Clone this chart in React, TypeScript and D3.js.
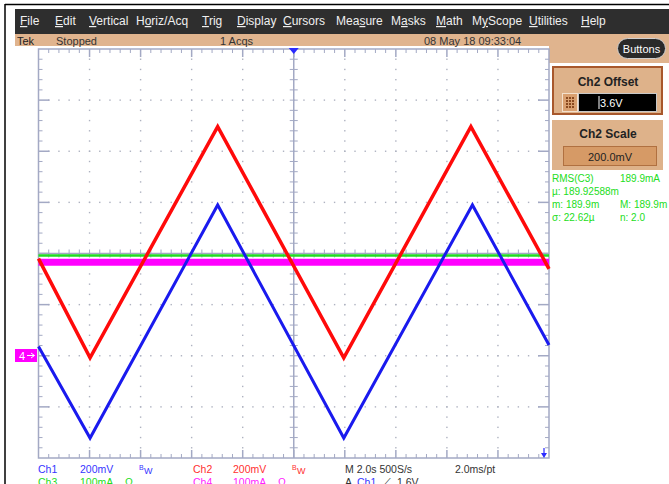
import React from "react";
import * as d3 from "d3";

// ---- data (time in divisions 0..10, amplitude in divisions -4..4) ----
const ch2Time = [0, 1.01, 3.51, 5.98, 8.47, 10];
const ch2Level = [-0.1, -2.04, 2.48, -2.04, 2.48, -0.3];
const ch1Time = [0, 1.01, 3.51, 5.98, 8.5, 10];
const ch1Level = [-1.82, -3.61, 0.95, -3.61, 0.95, -1.79];
const ch3Time = [0, 10];
const ch3Level = [-0.04, -0.04];
const ch4Time = [0, 10];
const ch4Level = [-0.17, -0.17];

const menuItems = ["File", "Edit", "Vertical", "Horiz/Acq", "Trig", "Display", "Cursors", "Measure", "Masks", "Math", "MyScope", "Utilities", "Help"];
const menuUnderline = [0, 0, 0, 1, 0, 0, 0, 3, 1, 0, 1, 0, 0];
const menuX = [20, 55, 89, 136, 202, 237, 283, 336, 391, 436, 472, 529, 581];

const measureRows = [
  ["RMS(C3)", "189.9mA"],
  ["µ:  189.92588m", ""],
  ["m:  189.9m", "M:  189.9m"],
  ["σ:  22.62µ", "n:  2.0"],
];

const X0 = 38.5, X1 = 549, Y0 = 49, Y1 = 458;
const GRID = "#a3a9c4";
const FONT = "'Liberation Sans', Arial, sans-serif";

export default function App() {
  const x = d3.scaleLinear().domain([0, 10]).range([X0, X1]);
  const y = d3.scaleLinear().domain([-4, 4]).range([Y1, Y0]);
  const line = (t: number[], v: number[]) =>
    d3.line<number>().x((_, i) => x(t[i])).y((d) => y(d))(v) || "";

  const dots: JSX.Element[] = [];
  for (let i = 1; i < 10; i++) {
    if (i === 5) continue;
    for (let k = 1; k < 40; k++) {
      dots.push(<rect key={`v${i}-${k}`} x={x(i) - 0.7} y={y(-4 + k * 0.2) - 0.7} width={1.4} height={1.4} fill="#aeb2c0" />);
    }
  }
  for (let j = 1; j < 8; j++) {
    if (j === 4) continue;
    for (let k = 1; k < 50; k++) {
      dots.push(<rect key={`h${j}-${k}`} x={x(k * 0.2) - 0.7} y={y(-4 + j) - 0.7} width={1.4} height={1.4} fill="#aeb2c0" />);
    }
  }
  const ticks: JSX.Element[] = [];
  for (let k = 1; k < 50; k++) {
    const major = k % 5 === 0;
    const L = major ? 8 : 4;
    const xx = x(k * 0.2);
    ticks.push(<line key={`tt${k}`} x1={xx} x2={xx} y1={Y0} y2={Y0 + L} stroke={GRID} strokeWidth={major ? 1.5 : 1} />);
    ticks.push(<line key={`tb${k}`} x1={xx} x2={xx} y1={Y1} y2={Y1 - L} stroke={GRID} strokeWidth={major ? 1.5 : 1} />);
    ticks.push(<line key={`tc${k}`} x1={xx} x2={xx} y1={y(0) - 4} y2={y(0) + 4} stroke={GRID} strokeWidth={1} />);
  }
  for (let k = 1; k < 40; k++) {
    const major = k % 5 === 0;
    const L = major ? 11 : 4;
    const yy = y(-4 + k * 0.2);
    ticks.push(<line key={`tl${k}`} x1={X0} x2={X0 + L} y1={yy} y2={yy} stroke={GRID} strokeWidth={major ? 1.5 : 1} />);
    ticks.push(<line key={`tr${k}`} x1={X1} x2={X1 - L} y1={yy} y2={yy} stroke={GRID} strokeWidth={major ? 1.5 : 1} />);
    ticks.push(<line key={`tm${k}`} x1={x(5) - 4} x2={x(5) + 4} y1={yy} y2={yy} stroke={GRID} strokeWidth={1} />);
  }

  return (
    <svg width={669} height={484} style={{ position: "absolute", left: 0, top: 0, background: "#fff" }} fontFamily={FONT}>
      {/* frame */}
      <line x1={5} x2={669} y1={4.5} y2={4.5} stroke="#000" strokeWidth={1.5} />
      <line x1={5} x2={5} y1={4} y2={484} stroke="#000" strokeWidth={1.5} />
      {/* menu bar */}
      <rect x={15} y={9} width={654} height={25} fill="#2e2e2e" />
      {menuItems.map((m, i) => (
        <text key={m} x={menuX[i]} y={25} fontSize={12} fill="#f0f0f0">
          {m.split("").map((c, j) => (
            <tspan key={j} textDecoration={j === menuUnderline[i] ? "underline" : undefined}>{c}</tspan>
          ))}
        </text>
      ))}
      {/* status bar */}
      <rect x={15} y={34} width={654} height={12} fill="#e0b48e" />
      <rect x={549} y={34} width={120} height={29} fill="#e0b48e" />
      <text x={17} y={44.5} fontSize={11} fill="#222">Tek</text>
      <text x={56} y={44.5} fontSize={11} fill="#333">Stopped</text>
      <text x={220} y={44.5} fontSize={11} fill="#333">1 Acqs</text>
      <text x={424} y={44.5} fontSize={11} fill="#333">08 May 18 09:33:04</text>
      <rect x={617.5} y={38.5} width={48} height={20} rx={10} fill="#2a2a2a" stroke="#cfcfcf" strokeWidth={1} />
      <text x={641.5} y={52.5} fontSize={11} fill="#fff" textAnchor="middle">Buttons</text>

      {/* graticule */}
      <rect x={X0} y={Y0} width={X1 - X0} height={Y1 - Y0} fill="#fff" />
      {dots}
      <line x1={x(5)} x2={x(5)} y1={Y0} y2={Y1} stroke={GRID} strokeWidth={1.5} />
      <line x1={X0} x2={X1} y1={y(0)} y2={y(0)} stroke={GRID} strokeWidth={1.5} />
      {ticks}
      <rect x={X0} y={Y0} width={X1 - X0} height={Y1 - Y0} fill="none" stroke={GRID} strokeWidth={1.5} />

      {/* traces */}
      <path d={line(ch3Time, ch3Level)} fill="none" stroke="#22dd22" strokeWidth={2.5} />
      <path d={line(ch4Time, ch4Level)} fill="none" stroke="#ff00ff" strokeWidth={7} />
      <path d={line(ch2Time, ch2Level)} fill="none" stroke="#ff0a0a" strokeWidth={3.5} strokeLinejoin="miter" />
      <path d={line(ch1Time, ch1Level)} fill="none" stroke="#1a1aee" strokeWidth={3} strokeLinejoin="miter" />

      {/* markers */}
      <path d={`M${x(5) - 5},${Y0 - 1} L${x(5) + 5},${Y0 - 1} L${x(5)},${Y0 + 5} Z`} fill="#2a2aff" />
      <path d={`M${X1 - 8},${Y1 - 5} L${X1 - 2},${Y1 - 5} L${X1 - 5},${Y1} Z M${X1 - 5.6},${Y1 - 10} h1.2 v6 h-1.2 Z`} fill="#2a2aff" />
      <rect x={15} y={349} width={22} height={13} fill="#ff00ff" />
      <text x={19} y={359.5} fontSize={11} fill="#fff">4</text>
      <path d="M27,355.5 L34,355.5 M31,353 L34.5,355.5 L31,358" stroke="#fff" strokeWidth={1} fill="none" />

      {/* right panel */}
      <rect x={553} y={67} width={109} height={47} fill="#deb28a" stroke="#a8582c" strokeWidth={2} />
      <text x={608} y={86} fontSize={12} fontWeight="bold" fill="#222" textAnchor="middle">Ch2 Offset</text>
      <rect x={562.5} y={93.5} width={15} height={18} fill="#d9a070" stroke="#f4e0cc" strokeWidth={1} />
      {[0, 1, 2, 3].map((r) => [0, 1, 2].map((c) => (
        <rect key={`g${r}${c}`} x={566 + c * 3} y={97 + r * 3} width={2} height={2} fill="#8a4a20" />
      )))}
      <rect x={578.5} y={93.5} width={78} height={18} fill="#000" stroke="#c8c8c8" strokeWidth={1} />
      <line x1={599} x2={599} y1={96} y2={109} stroke="#fff" strokeWidth={1} />
      <text x={600} y={107} fontSize={11} fill="#fff">3.6V</text>

      <rect x={552} y={120} width={111} height={50} fill="#deb28a" />
      <text x={608} y={138} fontSize={12} fontWeight="bold" fill="#222" textAnchor="middle">Ch2 Scale</text>
      <rect x={563.5} y={146.5} width={93} height={19} fill="#d69a66" stroke="#b07040" strokeWidth={1} />
      <text x={610} y={160.5} fontSize={11} fill="#222" textAnchor="middle">200.0mV</text>

      {measureRows.map((r, i) => (
        <g key={i} fontSize={10} fill="#22dd22">
          <text x={552} y={182 + i * 13}>{r[0]}</text>
          <text x={620} y={182 + i * 13}>{r[1]}</text>
        </g>
      ))}

      {/* bottom readouts */}
      <g fontSize={10.5}>
        <text x={38} y={473} fill="#3535ff">Ch1</text>
        <text x={80} y={473} fill="#3535ff">200mV</text>
        <text x={139} y={470} fill="#3535ff" fontSize={7}>B</text>
        <text x={144} y={474} fill="#3535ff" fontSize={9}>W</text>
        <text x={193} y={473} fill="#ff3030">Ch2</text>
        <text x={233} y={473} fill="#ff3030">200mV</text>
        <text x={292} y={470} fill="#ff3030" fontSize={7}>B</text>
        <text x={297} y={474} fill="#ff3030" fontSize={9}>W</text>
        <text x={345} y={473} fill="#333">M 2.0s 500S/s</text>
        <text x={455} y={473} fill="#333">2.0ms/pt</text>
        <text x={38} y={485.5} fill="#22dd22">Ch3</text>
        <text x={80} y={485.5} fill="#22dd22">100mA</text>
        <text x={125} y={485.5} fill="#22dd22">Ω</text>
        <text x={193} y={485.5} fill="#ff22ff">Ch4</text>
        <text x={233} y={485.5} fill="#ff22ff">100mA</text>
        <text x={278} y={485.5} fill="#ff22ff">Ω</text>
        <text x={345} y={485.5} fill="#333">A</text>
        <text x={357} y={485.5} fill="#3535ff">Ch1</text>
        <text x={383} y={485.5} fill="#333">⟋</text>
        <text x={397} y={485.5} fill="#333">1.6V</text>
      </g>
    </svg>
  );
}
